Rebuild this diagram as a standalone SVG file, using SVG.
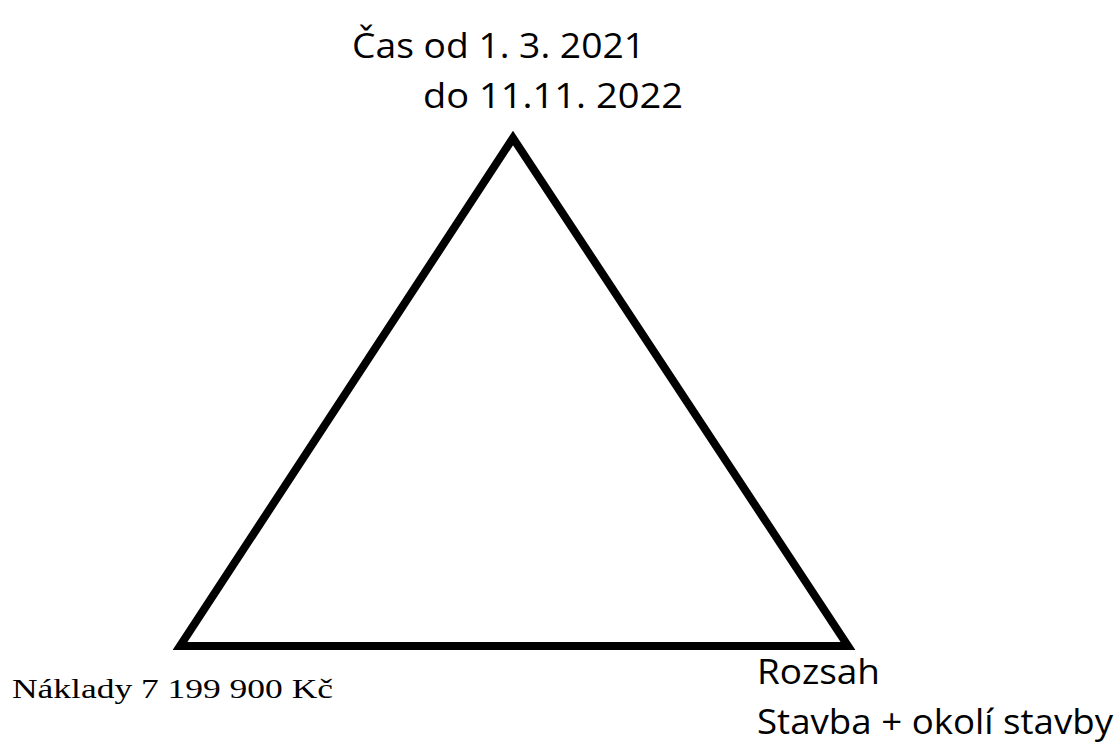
<svg xmlns="http://www.w3.org/2000/svg" width="1120" height="742" viewBox="0 0 1120 742">
<style>
.sans{font-family:"Open Sans","Noto Sans",sans-serif;font-size:35px;fill:#000}
.serif{font-family:"Liberation Serif","Times New Roman",serif;font-size:28px;fill:#000}
</style>
<rect width="1120" height="742" fill="#fff"/>
<g id="connectors">
<polygon points="513,138 180,646 848,646" fill="none" stroke="#000" stroke-width="8" stroke-linejoin="miter"/>
</g>
<g id="node-cas">
<text class="sans" x="352" y="58" textLength="293" lengthAdjust="spacingAndGlyphs">Čas od 1. 3. 2021</text>
<text class="sans" x="423" y="108" textLength="260" lengthAdjust="spacingAndGlyphs">do 11.11. 2022</text>
</g>
<g id="node-naklady">
<text class="serif" x="12" y="698" textLength="321" lengthAdjust="spacingAndGlyphs">Náklady 7 199 900 Kč</text>
</g>
<g id="node-rozsah">
<text class="sans" x="757" y="684" textLength="123" lengthAdjust="spacingAndGlyphs">Rozsah</text>
<text class="sans" x="757" y="734" textLength="356" lengthAdjust="spacingAndGlyphs">Stavba + okolí stavby</text>
</g>
</svg>
